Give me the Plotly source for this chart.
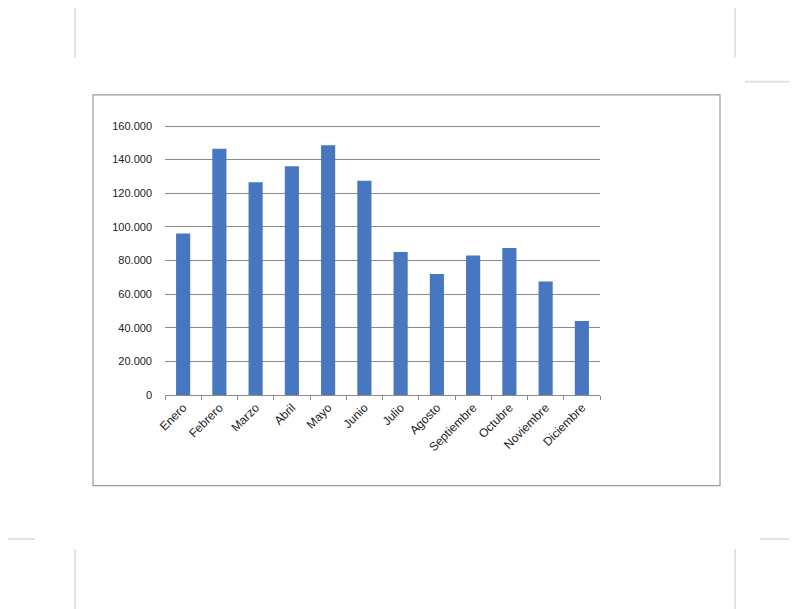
import plotly.graph_objects as go

meses = ["Enero", "Febrero", "Marzo", "Abril", "Mayo", "Junio", "Julio",
         "Agosto", "Septiembre", "Octubre", "Noviembre", "Diciembre"]
valores = [96000, 146500, 126500, 136000, 148500, 127500, 85000,
           72000, 83000, 87500, 67500, 44000]
y_ticks = [0, 20000, 40000, 60000, 80000, 100000, 120000, 140000, 160000]

OFF = 8  # page body margin
W, H = 797 - OFF, 609 - OFF
L, R, T, B = 165 - OFF, 600 - OFF, 126 - OFF, 395 - OFF
YMAX = 160000
YTOP = 161200  # small headroom so the 160.000 gridline shows

def px(x):
    return (x - OFF - L) / (R - L)

def py(y):
    return (B - (y - OFF)) / (B - T)

fig = go.Figure()
fig.add_trace(go.Bar(x=meses, y=valores, marker=dict(color="#4677c0", line=dict(width=0)),
                     width=0.39))

shapes = [
    dict(type="rect", xref="paper", yref="paper", x0=px(93), x1=px(720), y0=py(485), y1=py(97),
         line=dict(color="#9a9a9a", width=1.2), layer="below"),
]
for (x0, y0, x1, y1) in [(75, 0, 75, 60), (75, 548, 75, 609), (735, 0, 735, 60), (735, 548, 735, 609),
                          (745, 84, 797, 84), (0, 538, 35, 538), (760, 538, 797, 538)]:
    shapes.append(dict(type="line", xref="paper", yref="paper", x0=px(x0), x1=px(x1),
                       y0=py(y0), y1=py(y1), line=dict(color="#e2e2e2", width=2)))

fig.update_layout(
    width=W, height=H,
    margin=dict(l=L, r=W - R, t=T - round((YTOP - YMAX) / YMAX * (B - T)), b=H - B, pad=0),
    paper_bgcolor="white", plot_bgcolor="white",
    separators=",.",
    showlegend=False,
    bargap=0.61,
    font=dict(family="Liberation Sans", size=11, color="#222"),
    shapes=shapes,
    xaxis=dict(showline=True, linecolor="#8c8c8c", linewidth=1, ticks="outside",
               tickson="boundaries", ticklen=4, tickcolor="#8c8c8c", tickangle=-45,
               showgrid=False, tickfont=dict(size=12)),
    yaxis=dict(range=[0, YTOP], tickvals=y_ticks, tickformat=",d", showgrid=True,
               gridcolor="#8a8a8a", gridwidth=1, zeroline=False, showline=False,
               ticks="", ticklabelstandoff=12, tickfont=dict(size=11)),
)

fig.write_html("out.html")
